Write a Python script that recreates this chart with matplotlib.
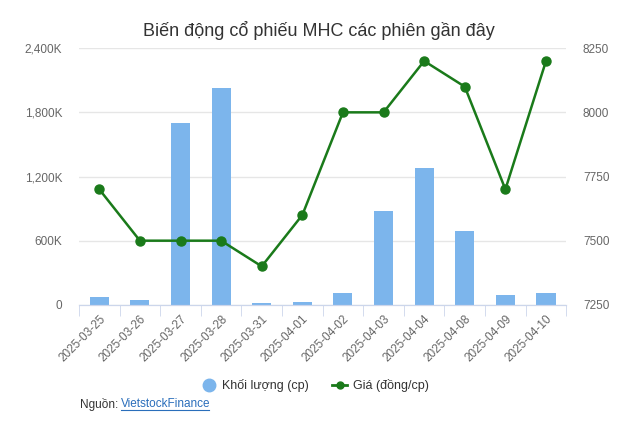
import matplotlib.pyplot as plt
import numpy as np
from matplotlib.ticker import FuncFormatter

plt.rcParams["font.family"] = ["Liberation Sans", "DejaVu Sans"]

dates = ["2025-03-25", "2025-03-26", "2025-03-27", "2025-03-28", "2025-03-31",
         "2025-04-01", "2025-04-02", "2025-04-03", "2025-04-04", "2025-04-08",
         "2025-04-09", "2025-04-10"]
volume = [78000, 45000, 1700000, 2026000, 15000, 25000, 110000, 878000,
          1279000, 691000, 90000, 110000]
price = [7700, 7500, 7500, 7500, 7400, 7600, 8000, 8000, 8200, 8100, 7700, 8200]

bar_color = "#7cb5ec"
line_color = "#1a7a1a"
tick_color = "#666666"

fig = plt.figure(figsize=(6.37, 4.38), dpi=100)
ax = fig.add_axes([0.124, 0.304, 0.765, 0.586])
x = np.arange(len(dates))

ax.bar(x, volume, width=0.47, color=bar_color, zorder=2)
ax.set_ylim(0, 2400000)
ax.set_yticks([0, 600000, 1200000, 1800000, 2400000])
ax.yaxis.set_major_formatter(FuncFormatter(lambda v, p: "0" if v == 0 else f"{v/1000:,.0f}K"))
ax.grid(axis="y", color="#e6e6e6", linewidth=1, zorder=0)
ax.set_xlim(-0.5, len(dates) - 0.5)

ax2 = ax.twinx()
ax2.plot(x, price, color=line_color, linewidth=1.8, marker="o", markersize=6.5, zorder=3)
ax2.set_ylim(7250, 8250)
ax2.set_yticks([7250, 7500, 7750, 8000, 8250])

for a in (ax, ax2):
    for s in ["top", "left", "right"]:
        a.spines[s].set_visible(False)
    a.spines["bottom"].set_color("#ccd6eb")
    a.tick_params(axis="y", length=0, labelsize=8.5, colors=tick_color, pad=12)

ax.set_xticks(x)
ax.set_xticklabels(dates, rotation=45, ha="right", rotation_mode="anchor",
                   fontsize=8.5, color=tick_color)
ax.tick_params(axis="x", length=0, pad=6)
ax.set_xticks(np.arange(-0.5, len(dates)), minor=True)
ax.tick_params(axis="x", which="minor", length=8, color="#ccd6eb")

fig.text(0.5, 0.93, "Biến động cổ phiếu MHC các phiên gần đây", ha="center",
         va="center", fontsize=13, color="#333333")

# legend
ly = 0.121
fig.lines.append(plt.Line2D([0.328], [ly], marker="o", markersize=9, color=bar_color,
                            transform=fig.transFigure, linestyle="none"))
fig.text(0.348, ly, "Khối lượng (cp)", fontsize=9, color="#333333", va="center")
fig.lines.append(plt.Line2D([0.521, 0.545], [ly, ly], color=line_color, linewidth=2,
                            transform=fig.transFigure))
fig.lines.append(plt.Line2D([0.533], [ly], marker="o", markersize=5, color=line_color,
                            transform=fig.transFigure, linestyle="none"))
fig.text(0.554, ly, "Giá (đồng/cp)", fontsize=9, color="#333333", va="center")

fig.text(0.126, 0.077, "Nguồn: ", fontsize=8.5, color="#333333", va="center")
fig.text(0.19, 0.077, "VietstockFinance", fontsize=8.5, color="#2a6ebb", va="center")
fig.lines.append(plt.Line2D([0.19, 0.328], [0.064, 0.064], color="#2a6ebb", linewidth=0.8,
                            transform=fig.transFigure))

fig.savefig("out.png", dpi=100)
